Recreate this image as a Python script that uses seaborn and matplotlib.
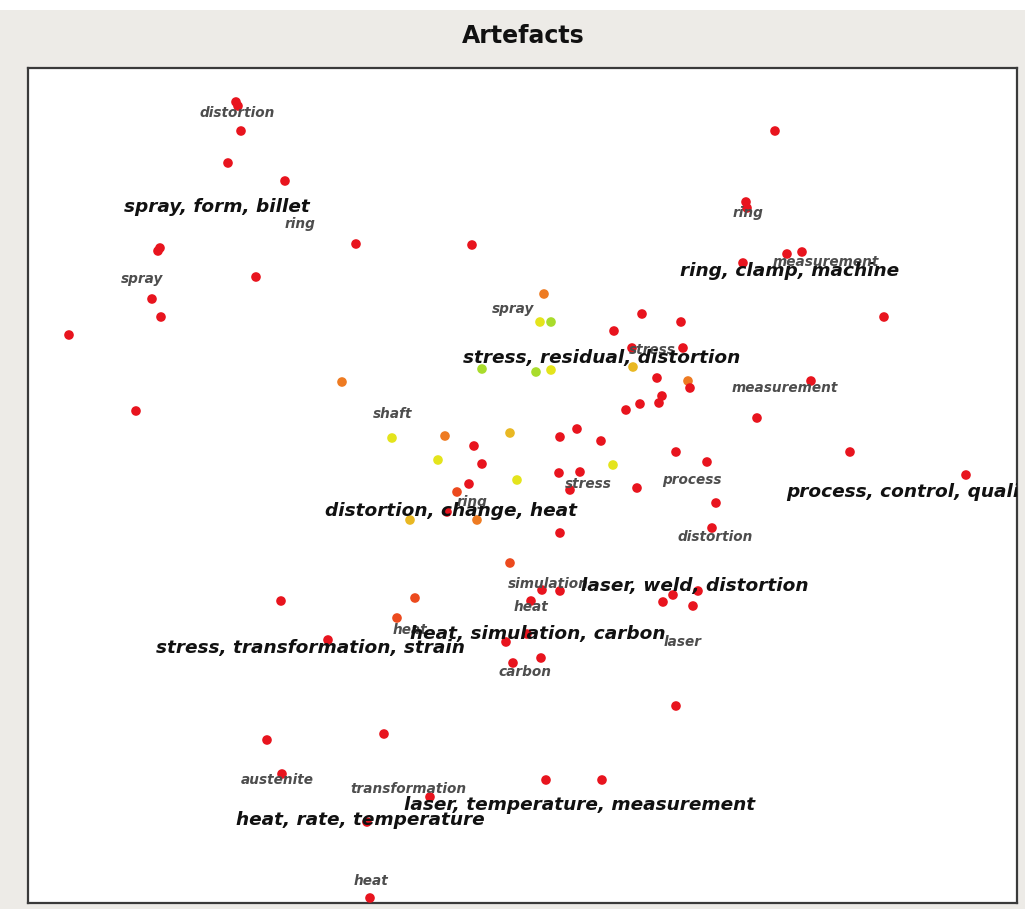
import matplotlib
matplotlib.use("Agg")
import matplotlib.pyplot as plt
import seaborn as sns
import pandas as pd
from matplotlib.patches import Rectangle

# ---------------- data (map coordinates) ----------------
pt_x = [236, 238, 241, 228, 285, 160, 158, 256, 152, 161, 69, 356, 472, 136, 342,
        775, 746, 747, 743, 787, 802, 884, 811, 757, 850, 966,
        544, 540, 551, 614, 642, 681, 632, 683, 633, 482, 536, 551, 657, 688, 690,
        662, 659, 640, 626,
        392, 445, 510, 474, 438, 482, 517, 469, 457, 560, 577, 601, 613, 559, 580,
        570, 637, 676, 707, 716, 712, 560, 410, 447, 477,
        510, 415, 397, 542, 560, 531, 506, 527, 513, 541, 663, 673, 698, 693,
        281, 328, 267, 384, 282, 430, 367, 546, 602, 676, 370]
pt_y = [102, 106, 131, 163, 181, 248, 251, 277, 299, 317, 335, 244, 245, 411, 382,
        131, 202, 208, 263, 254, 252, 317, 381, 418, 452, 475,
        294, 322, 322, 331, 314, 322, 348, 348, 367, 369, 372, 370, 378, 381, 388,
        396, 403, 404, 410,
        438, 436, 433, 446, 460, 464, 480, 484, 492, 437, 429, 441, 465, 473, 472,
        490, 488, 452, 462, 503, 528, 533, 520, 512, 520,
        563, 598, 618, 590, 591, 601, 642, 634, 663, 658, 602, 595, 591, 606,
        601, 640, 740, 734, 774, 797, 822, 780, 780, 706, 898]
pt_tone = ["red"] * 14 + ["orange"] + \
          ["red"] * 11 + \
          ["orange", "yellow", "lime", "red", "red", "red", "red", "red", "amber",
           "lime", "lime", "yellow", "red", "orange", "red", "red", "red", "red", "red"] + \
          ["yellow", "orange", "amber", "red", "yellow", "red", "yellow", "red", "vermilion",
           "red", "red", "red", "yellow", "red", "red", "red", "red", "red", "red", "red",
           "red", "red", "amber", "red", "orange"] + \
          ["vermilion", "vermilion", "vermilion", "red", "red", "red", "red", "red", "red",
           "red", "red", "red", "red", "red"] + \
          ["red"] * 11

topic_labels = ["spray, form, billet", "ring, clamp, machine", "stress, residual, distortion",
                "process, control, quality", "distortion, change, heat", "laser, weld, distortion",
                "heat, simulation, carbon", "stress, transformation, strain",
                "laser, temperature, measurement", "heat, rate, temperature"]
topic_x = [217, 790, 602, 786, 451, 695, 538, 310, 580, 360]
topic_y = [207, 271, 358, 492, 511, 586, 634, 648, 805, 820]
topic_ha = ["center"] * 3 + ["left"] + ["center"] * 6

term_labels = ["distortion", "ring", "spray", "spray", "ring", "measurement", "measurement",
               "shaft", "stress", "ring", "stress", "process", "distortion", "simulation",
               "heat", "heat", "laser", "carbon", "austenite", "transformation", "heat"]
term_x = [237, 300, 142, 513, 748, 826, 785, 393, 652, 472, 588, 692, 715, 548, 531, 410,
          683, 525, 277, 408, 371]
term_y = [113, 224, 279, 309, 213, 262, 388, 414, 350, 502, 484, 480, 537, 584, 607, 630,
          642, 672, 780, 789, 881]

palette = {"red": "#e8141e", "vermilion": "#ec4a1e", "orange": "#ee7b22",
           "amber": "#e9b823", "yellow": "#e4e41c", "lime": "#a9dc2c"}

# ---------------- figure ----------------
W, H = 1025, 909
fig = plt.figure(figsize=(W / 100, H / 100), dpi=100)
fig.patch.set_facecolor("#edebe7")
fig.add_artist(Rectangle((0, 1 - 10 / H), 1, 10 / H, transform=fig.transFigure,
                         facecolor="white", edgecolor="none", zorder=0))

ax = fig.add_axes([28 / W, 1 - 903 / H, (1017 - 28) / W, (903 - 68) / H])
ax.set_facecolor("white")

df = pd.DataFrame({"x": pt_x, "y": pt_y, "tone": pt_tone})
sns.scatterplot(data=df, x="x", y="y", hue="tone", palette=palette, s=48,
                linewidth=0, legend=False, ax=ax, zorder=3)

for lab, x, y in zip(term_labels, term_x, term_y):
    ax.text(x, y, lab, fontsize=9.8, style="italic", fontweight="bold", color="#4d4d4d",
            ha="center", va="center", zorder=4, clip_on=True)

for lab, x, y, ha in zip(topic_labels, topic_x, topic_y, topic_ha):
    ax.text(x, y, lab, fontsize=13.3, style="italic", fontweight="bold", color="#111111",
            ha=ha, va="center", zorder=5, clip_on=True)

ax.set_xlim(28, 1017)
ax.set_ylim(903, 68)
ax.set_xticks([])
ax.set_yticks([])
ax.set_xlabel("")
ax.set_ylabel("")
for sp in ax.spines.values():
    sp.set_color("#3a3a3a")
    sp.set_linewidth(1.6)

fig.text(523 / W, 1 - 36 / H, "Artefacts", fontsize=17, fontweight="bold",
         ha="center", va="center", color="#111111")

fig.savefig("out.png", dpi=100, facecolor=fig.get_facecolor())
